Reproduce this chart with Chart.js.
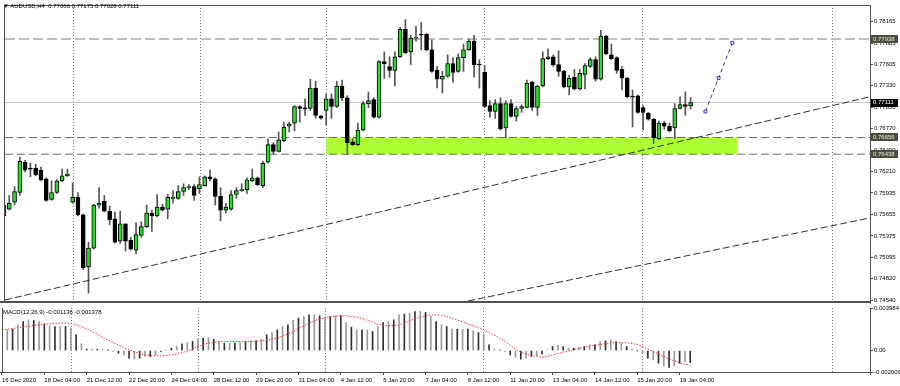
<!DOCTYPE html>
<html>
<head>
<meta charset="utf-8">
<script src="https://cdn.jsdelivr.net/npm/chart.js@4.4.1/dist/chart.umd.min.js"></script>
<style>
  html, body { margin: 0; padding: 0; background: #fff; }
  #wrap { position: relative; width: 900px; height: 386px; overflow: hidden; }
  #main { position: absolute; left: 0; top: 0; }
  #macd { position: absolute; left: 0; top: 300px; }
  .lbl { position: absolute; font: 6px "Liberation Sans", Arial, sans-serif; color: #000; white-space: pre; }
</style>
</head>
<body>
<div id="wrap">
  <canvas id="main" width="900" height="306"></canvas>
  <canvas id="macd" width="900" height="86"></canvas>
  <div class="lbl" style="left:3px;top:3px">▼ AUDUSD,H4  0.77066 0.77175 0.77028 0.77111</div>
  <div class="lbl" style="left:3px;top:309px">MACD(12,26,9) -0.001136 -0.001378</div>
</div>
<script>
// AUDUSD H4, 16 Dec 2020 16:00 .. 19 Jan 2021 12:00 (bar index 0..130)
const open = [
  0.75635,0.75724,0.75813,0.75940,0.76334,0.76258,0.76258,0.76232,0.76118,0.75851,
  0.75940,0.76092,0.76156,0.75813,0.75876,0.75648,0.74972,0.75216,0.75775,0.75825,
  0.75698,0.75597,0.75305,0.75533,0.75317,0.75190,0.75381,0.75495,0.75673,0.75635,
  0.75749,0.75724,0.75864,0.75864,0.75953,0.76003,0.76016,0.75991,0.76029,0.76143,
  0.76118,0.75889,0.75711,0.75724,0.75914,0.75965,0.75978,0.76092,0.76131,0.76029,
  0.76334,0.76563,0.76474,0.76614,0.76804,0.76842,0.77059,0.77033,0.77033,0.77300,
  0.76931,0.77008,0.77160,0.77059,0.77326,0.77173,0.76601,0.76563,0.76753,0.77097,
  0.77148,0.76919,0.77644,0.77580,0.77529,0.77707,0.78064,0.77771,0.77949,0.78000,
  0.78000,0.77796,0.77529,0.77415,0.77453,0.77618,0.77516,0.77695,0.77796,0.77911,
  0.77605,0.77504,0.77071,0.76995,0.77097,0.76779,0.77097,0.76931,0.77033,0.77046,
  0.77377,0.77046,0.77326,0.77682,0.77707,0.77605,0.77516,0.77313,0.77440,0.77288,
  0.77478,0.77580,0.77669,0.77415,0.77975,0.77733,0.77695,0.77542,0.77427,0.77186,
  0.77199,0.77046,0.76970,0.76893,0.76639,0.76842,0.76804,0.76779,0.77033,0.77084,
  0.77066
];
const high = [
  0.75864,0.75902,0.76016,0.76397,0.76359,0.76321,0.76308,0.76270,0.76131,0.76092,
  0.76105,0.76245,0.76245,0.76067,0.75940,0.75660,0.75292,0.75787,0.76003,0.75902,
  0.75762,0.75686,0.75698,0.75533,0.75355,0.75546,0.75559,0.75775,0.75711,0.75914,
  0.75787,0.75914,0.75965,0.76029,0.76054,0.76042,0.76042,0.76143,0.76156,0.76232,
  0.76131,0.76003,0.75800,0.75965,0.76003,0.76054,0.76131,0.76245,0.76143,0.76347,
  0.76639,0.76588,0.76728,0.76855,0.76855,0.77071,0.77071,0.77160,0.77415,0.77389,
  0.76944,0.77224,0.77224,0.77389,0.77402,0.77199,0.76639,0.76842,0.77122,0.77249,
  0.77173,0.77656,0.77771,0.77707,0.77771,0.78089,0.78191,0.77987,0.78102,0.78153,
  0.78013,0.77924,0.77580,0.77516,0.77733,0.77695,0.77745,0.77873,0.77936,0.77987,
  0.77669,0.77593,0.77135,0.77148,0.77173,0.77135,0.77148,0.77059,0.77084,0.77402,
  0.77389,0.77338,0.77771,0.77809,0.77733,0.77784,0.77529,0.77466,0.77542,0.77542,
  0.77618,0.77695,0.77707,0.78051,0.77987,0.77873,0.77707,0.77580,0.77440,0.77275,
  0.77211,0.77071,0.76982,0.76906,0.76868,0.76868,0.76842,0.77097,0.77186,0.77249,
  0.77175
];
const low = [
  0.75393,0.75711,0.75775,0.75902,0.76207,0.76143,0.76156,0.76092,0.75825,0.75838,
  0.75927,0.76080,0.76150,0.75800,0.75635,0.74934,0.74629,0.75203,0.75737,0.75686,
  0.75521,0.75279,0.75279,0.75178,0.75190,0.75139,0.75355,0.75482,0.75432,0.75622,
  0.75698,0.75597,0.75800,0.75851,0.75902,0.75978,0.75838,0.75927,0.76022,0.76092,
  0.75775,0.75571,0.75673,0.75711,0.75864,0.75953,0.75927,0.76080,0.76029,0.76003,
  0.76321,0.76436,0.76467,0.76601,0.76728,0.76741,0.76855,0.76944,0.77008,0.76906,
  0.76893,0.76817,0.76906,0.77046,0.77135,0.76436,0.76550,0.76550,0.76741,0.77046,
  0.76906,0.76906,0.77427,0.77440,0.77326,0.77695,0.77745,0.77605,0.77911,0.77796,
  0.77784,0.77504,0.77300,0.77237,0.77440,0.77377,0.77504,0.77516,0.77790,0.77440,
  0.77300,0.77046,0.76919,0.76906,0.76753,0.76652,0.76919,0.76868,0.76982,0.77040,
  0.77008,0.76944,0.77313,0.77669,0.77580,0.77453,0.77300,0.77211,0.77275,0.77275,
  0.77288,0.77567,0.77389,0.77402,0.77733,0.77669,0.77491,0.77275,0.77173,0.76792,
  0.76970,0.76753,0.76881,0.76575,0.76626,0.76766,0.76728,0.76639,0.77027,0.76944,
  0.77028
];
const close = [
  0.75775,0.75800,0.75953,0.76347,0.76232,0.76245,0.76169,0.76105,0.75838,0.75940,
  0.76092,0.76156,0.76181,0.75876,0.75648,0.74960,0.75216,0.75775,0.75800,0.75698,
  0.75584,0.75292,0.75533,0.75305,0.75203,0.75393,0.75495,0.75673,0.75635,0.75749,
  0.75711,0.75876,0.75876,0.75953,0.76003,0.76016,0.75902,0.76042,0.76143,0.76118,
  0.75889,0.75711,0.75749,0.75914,0.75965,0.75978,0.76105,0.76131,0.76042,0.76321,
  0.76563,0.76474,0.76626,0.76792,0.76830,0.77059,0.77033,0.77030,0.77300,0.76944,
  0.76906,0.77160,0.77059,0.77326,0.77173,0.76588,0.76563,0.76753,0.77097,0.77135,
  0.76919,0.77644,0.77618,0.77529,0.77707,0.78064,0.77758,0.77949,0.77962,0.77987,
  0.77796,0.77516,0.77415,0.77453,0.77618,0.77504,0.77695,0.77796,0.77911,0.77605,
  0.77600,0.77059,0.76995,0.77097,0.76766,0.77097,0.76931,0.77033,0.77059,0.77364,
  0.77046,0.77326,0.77682,0.77707,0.77605,0.77516,0.77313,0.77427,0.77288,0.77491,
  0.77593,0.77669,0.77415,0.77975,0.77745,0.77682,0.77529,0.77427,0.77186,0.77182,
  0.76982,0.76982,0.76893,0.76652,0.76842,0.76804,0.76741,0.77033,0.77084,0.77059,
  0.77111
];

// MACD(12,26,9): main (histogram) and signal (dotted)
const macdMain = [
  0.00194,0.00194,0.00200,0.00241,0.00272,0.00288,0.00282,0.00272,0.00250,0.00232,
  0.00225,0.00225,0.00225,0.00210,0.00147,0.00063,0.00013,0.00013,0.00012,0.00011,
  0.00006,-0.00009,-0.00025,-0.00041,-0.00072,-0.00081,-0.00072,-0.00056,-0.00056,-0.00041,
  -0.00009,0.00002,0.00022,0.00038,0.00063,0.00075,0.00085,0.00106,0.00116,0.00122,
  0.00106,0.00085,0.00069,0.00069,0.00069,0.00075,0.00085,0.00091,0.00091,0.00106,
  0.00147,0.00169,0.00194,0.00225,0.00241,0.00282,0.00304,0.00319,0.00335,0.00335,
  0.00326,0.00313,0.00319,0.00326,0.00326,0.00263,0.00219,0.00194,0.00194,0.00194,
  0.00178,0.00225,0.00263,0.00272,0.00288,0.00335,0.00341,0.00351,0.00366,0.00366,
  0.00357,0.00319,0.00272,0.00241,0.00225,0.00200,0.00200,0.00200,0.00200,0.00188,
  0.00169,0.00150,0.00053,0.00013,0.00006,-0.00009,-0.00041,-0.00063,-0.00081,-0.00072,
  -0.00056,-0.00050,-0.00031,0.00006,0.00038,0.00047,0.00038,0.00022,0.00022,0.00028,
  0.00038,0.00053,0.00053,0.00085,0.00091,0.00100,0.00085,0.00069,0.00038,0.00013,
  -0.00002,-0.00025,-0.00072,-0.00088,-0.00119,-0.00144,-0.00157,-0.00144,-0.00119,-0.00103,
  -0.001136
];
const macdSignal = [
  0.00194,0.00200,0.00207,0.00213,0.00222,0.00228,0.00235,0.00241,0.00247,0.00250,
  0.00254,0.00257,0.00257,0.00254,0.00241,0.00222,0.00203,0.00178,0.00153,0.00125,
  0.00100,0.00075,0.00050,0.00028,0.00006,-0.00013,-0.00028,-0.00041,-0.00047,-0.00050,
  -0.00050,-0.00047,-0.00041,-0.00031,-0.00019,-0.00006,0.00016,0.00038,0.00056,0.00069,
  0.00075,0.00081,0.00085,0.00085,0.00085,0.00085,0.00085,0.00085,0.00088,0.00091,
  0.00094,0.00106,0.00116,0.00135,0.00157,0.00178,0.00207,0.00232,0.00257,0.00279,
  0.00294,0.00307,0.00316,0.00322,0.00326,0.00326,0.00319,0.00313,0.00300,0.00282,
  0.00266,0.00247,0.00235,0.00232,0.00232,0.00241,0.00257,0.00279,0.00297,0.00313,
  0.00326,0.00332,0.00335,0.00332,0.00319,0.00300,0.00285,0.00269,0.00250,0.00232,
  0.00213,0.00194,0.00169,0.00144,0.00116,0.00085,0.00050,0.00013,-0.00016,-0.00034,
  -0.00047,-0.00056,-0.00063,-0.00056,-0.00044,-0.00028,-0.00016,-0.00003,0.00009,0.00022,
  0.00031,0.00041,0.00050,0.00056,0.00066,0.00072,0.00075,0.00075,0.00072,0.00066,
  0.00056,0.00038,0.00013,-0.00009,-0.00034,-0.00056,-0.00078,-0.00097,-0.00116,-0.00128,
  -0.001378
];

const timeLabels = [
  "16 Dec 2020", "18 Dec 04:00", "21 Dec 12:00", "22 Dec 20:00", "24 Dec 04:00",
  "28 Dec 12:00", "29 Dec 20:00", "31 Dec 04:00", "4 Jan 12:00", "5 Jan 20:00",
  "7 Jan 04:00", "8 Jan 12:00", "11 Jan 20:00", "13 Jan 04:00", "14 Jan 12:00",
  "15 Jan 20:00", "19 Jan 04:00"
];
const timeLabelBars = [0, 8, 16, 24, 32, 40, 48, 56, 64, 72, 80, 88, 96, 104, 112, 120, 128];
const weekSeparators = [13.2, 37.2, 61.1, 90.9, 120.9, 156.8];

const priceTicks = [0.78165, 0.77885, 0.77605, 0.77330, 0.77050, 0.76770, 0.76490,
  0.76210, 0.75935, 0.75655, 0.75375, 0.75095, 0.74820, 0.74540];
const macdTicks = [-0.002009, 0, 0.003984];

// drawn objects
const levelTop = 0.77938;
const zoneHigh = 0.76656, zoneLow = 0.76438;
const zoneFrom = 61.0, zoneTo = 138.9;
const bid = 0.77111;
const trendUpperX = [0.19, 163.96], trendUpperY = [0.74540, 0.77186];
const trendLowerX = [87.87, 163.96], trendLowerY = [0.74527, 0.75609];
const projX = [132.8, 135.3, 137.9], projY = [0.76995, 0.77431, 0.77889];

const X_MIN = 0.19, X_MAX = 163.96;

Chart.defaults.font.family = '"Liberation Sans", Arial, sans-serif';
Chart.defaults.font.size = 6;
Chart.defaults.color = "#000";

const hline = v => [{ x: X_MIN, y: v }, { x: X_MAX, y: v }];
const pts = (xs, ys) => xs.map((x, i) => ({ x, y: ys[i] }));
const weekSet = new Set(weekSeparators);
const labelMap = new Map(timeLabelBars.map((b, i) => [b, timeLabels[i]]));

const frame = {
  id: "frame",
  afterDraw(chart, args, o) {
    const { ctx, chartArea: a } = chart;
    ctx.save();
    ctx.strokeStyle = "#505050";
    ctx.lineWidth = 1;
    ctx.beginPath();
    if (o.top) { ctx.moveTo(a.left, a.top + 0.5); ctx.lineTo(a.right, a.top + 0.5); }
    ctx.moveTo(a.left - 0.5, a.top); ctx.lineTo(a.left - 0.5, a.bottom);
    ctx.moveTo(a.right + 0.5, a.top); ctx.lineTo(a.right + 0.5, a.bottom + 3);
    ctx.stroke();
    ctx.lineWidth = o.bottom || 1;
    ctx.beginPath();
    ctx.moveTo(0, a.bottom + ctx.lineWidth / 2); ctx.lineTo(a.right + 1, a.bottom + ctx.lineWidth / 2);
    ctx.stroke();
    ctx.restore();
  }
};

const priceBoxes = {
  id: "priceBoxes",
  afterDraw(chart) {
    const { ctx, chartArea: a, scales: { y } } = chart;
    const marks = [
      { v: levelTop, bg: "#4e4e3e", fg: "#e8e8d8" },
      { v: zoneHigh, bg: "#4e4e3e", fg: "#e8e8d8" },
      { v: zoneLow, bg: "#4e4e3e", fg: "#e8e8d8" },
      { v: bid, bg: "#000", fg: "#fff" }
    ];
    ctx.save();
    ctx.font = '6px "Liberation Sans", Arial, sans-serif';
    ctx.textBaseline = "middle";
    marks.forEach(m => {
      const py = y.getPixelForValue(m.v);
      ctx.fillStyle = m.bg;
      ctx.fillRect(a.right + 1, Math.round(py) - 4, 27, 8);
      ctx.fillStyle = m.fg;
      ctx.fillText(m.v.toFixed(5), a.right + 3, py);
    });
    ctx.restore();
  }
};

new Chart(document.getElementById("main"), {
  type: "bar",
  data: {
    datasets: [
      { type: "line", data: pts(trendUpperX, trendUpperY), borderColor: "#303030", borderWidth: 1,
        borderDash: [7, 3], pointRadius: 0, order: 1 },
      { type: "line", data: pts(trendLowerX, trendLowerY), borderColor: "#303030", borderWidth: 1,
        borderDash: [7, 3], pointRadius: 0, order: 1 },
      { type: "line", data: pts(projX, projY), borderColor: "#3535a5", borderWidth: 1,
        borderDash: [4, 3], pointRadius: 2, pointStyle: "rect", pointBackgroundColor: "#fff",
        pointBorderColor: "#3535a5", pointBorderWidth: 1, order: 2 },
      { type: "bar", data: open.map((o, i) => ({ x: i, y: [o, close[i]] })), grouped: false,
        barThickness: 4, minBarLength: 1, borderSkipped: false, borderWidth: 1, borderColor: "#000",
        backgroundColor: open.map((o, i) => close[i] >= o ? "#22e022" : "#000"), order: 3 },
      { type: "bar", data: low.map((l, i) => ({ x: i, y: [l, high[i]] })), grouped: false,
        barThickness: 1, backgroundColor: "#555", order: 4 },
      { type: "line", data: hline(levelTop), borderColor: "#c0c0b8", borderWidth: 2,
        borderDash: [10, 4], pointRadius: 0, order: 5 },
      { type: "line", data: hline(bid), borderColor: "#c8c8c8", borderWidth: 1, pointRadius: 0, order: 5 },
      { type: "line", data: hline(zoneHigh), borderColor: "#6e6e6e", borderWidth: 1,
        borderDash: [8, 4], pointRadius: 0, order: 5 },
      { type: "line", data: hline(zoneLow), borderColor: "#6e6e6e", borderWidth: 1,
        borderDash: [8, 4], pointRadius: 0, order: 5 },
      { type: "line", data: [{ x: zoneFrom, y: zoneHigh }, { x: zoneTo, y: zoneHigh }], borderWidth: 0,
        pointRadius: 0, fill: "+1", backgroundColor: "#adff2f", order: 6 },
      { type: "line", data: [{ x: zoneFrom, y: zoneLow }, { x: zoneTo, y: zoneLow }], borderWidth: 0,
        pointRadius: 0, order: 7 }
    ]
  },
  options: {
    responsive: false,
    animation: false,
    layout: { padding: { left: 2, top: 2, right: 0, bottom: 1 } },
    plugins: { legend: { display: false }, tooltip: { enabled: false }, frame: { top: true, bottom: 2 } },
    scales: {
      x: {
        type: "linear", min: X_MIN, max: X_MAX, offset: false,
        afterBuildTicks: s => { s.ticks = weekSeparators.map(v => ({ value: v })); },
        afterFit: s => { s.height = 0; },
        ticks: { display: false },
        grid: { color: "#808080", lineWidth: 1, drawTicks: false, offset: false },
        border: { display: false, dash: [1, 2] }
      },
      y: {
        position: "right", min: 0.74527, max: 0.78381,
        afterBuildTicks: s => { s.ticks = priceTicks.map(v => ({ value: v })); },
        afterFit: s => { s.width = 30; },
        ticks: { callback: v => v.toFixed(5), padding: 1, autoSkip: false, color: "#000" },
        grid: { drawOnChartArea: false, tickLength: 3, tickColor: "#505050" },
        border: { display: false }
      }
    }
  },
  plugins: [frame, priceBoxes]
});

new Chart(document.getElementById("macd"), {
  type: "bar",
  data: {
    datasets: [
      { type: "line", data: macdSignal.map((v, i) => ({ x: i, y: v })), borderColor: "#ff3030",
        borderWidth: 1, borderDash: [1.5, 1.5], pointRadius: 0, order: 1 },
      { type: "bar", data: macdMain.map((v, i) => ({ x: i, y: v })), grouped: false, barThickness: 1,
        backgroundColor: macdMain.map((v, i) => i % 2 ? "#9a9a9a" : "#303030"), order: 2 }
    ]
  },
  options: {
    responsive: false,
    animation: false,
    layout: { padding: { left: 2, top: 8, right: 0, bottom: 0 } },
    plugins: { legend: { display: false }, tooltip: { enabled: false }, frame: { top: false, bottom: 1 } },
    scales: {
      x: {
        type: "linear", min: X_MIN, max: X_MAX, offset: false,
        afterBuildTicks: s => {
          s.ticks = [...timeLabelBars, ...weekSeparators].sort((a, b) => a - b).map(v => ({ value: v }));
        },
        afterFit: s => { s.height = 14; },
        ticks: { callback: v => labelMap.get(v) || "", align: "start", autoSkip: false,
          maxRotation: 0, padding: 2, color: "#000" },
        grid: {
          color: c => weekSet.has(c.tick && c.tick.value) ? "#808080" : "rgba(0,0,0,0)",
          tickColor: c => weekSet.has(c.tick && c.tick.value) ? "rgba(0,0,0,0)" : "#505050",
          tickLength: 3, offset: false
        },
        border: { display: false, dash: [1, 2] }
      },
      y: {
        position: "right", min: macdTicks[0], max: macdTicks[2],
        afterBuildTicks: s => { s.ticks = macdTicks.map(v => ({ value: v })); },
        afterFit: s => { s.width = 30; },
        ticks: { callback: v => v === 0 ? "0.00" : v.toFixed(6), padding: 1, autoSkip: false, color: "#000" },
        grid: { drawOnChartArea: false, tickLength: 3, tickColor: "#505050" },
        border: { display: false }
      }
    }
  },
  plugins: [frame]
});
</script>
</body>
</html>
